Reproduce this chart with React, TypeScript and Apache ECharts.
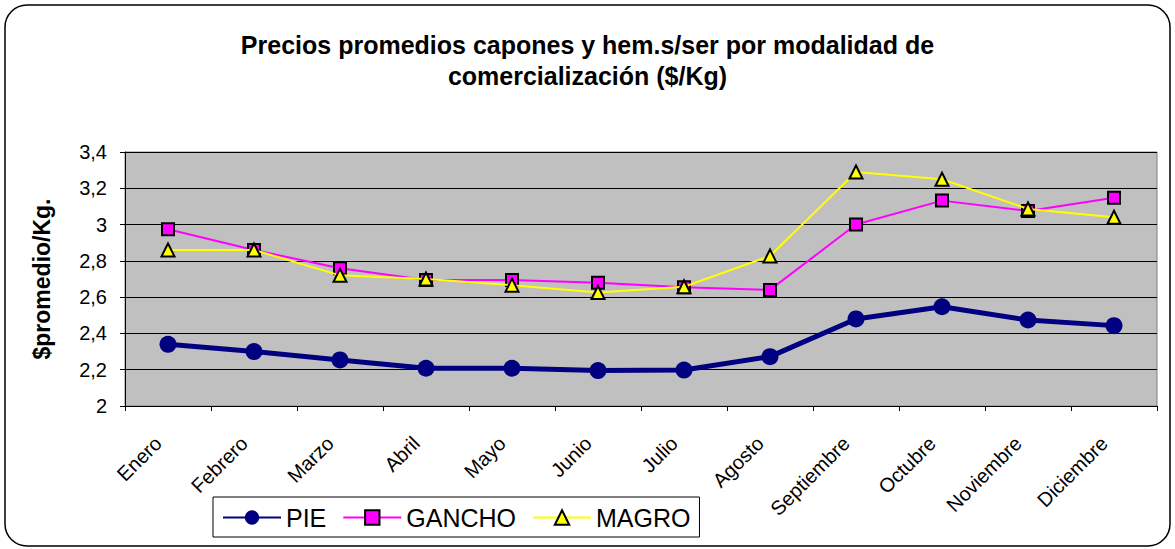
import React, { useEffect, useRef } from "react";
import * as echarts from "echarts";

const months = ["Enero", "Febrero", "Marzo", "Abril", "Mayo", "Junio", "Julio", "Agosto", "Septiembre", "Octubre", "Noviembre", "Diciembre"];
const pie = [2.34, 2.30, 2.254, 2.208, 2.208, 2.195, 2.198, 2.272, 2.48, 2.547, 2.474, 2.443];
const gancho = [2.974, 2.86, 2.759, 2.695, 2.695, 2.68, 2.654, 2.64, 3.0, 3.132, 3.075, 3.148];
const magro = [2.86, 2.86, 2.72, 2.70, 2.666, 2.625, 2.657, 2.827, 3.29, 3.25, 3.086, 3.04];

export default function App() {
  const ref = useRef<HTMLDivElement>(null);
  useEffect(() => {
    const chart = echarts.init(ref.current!, null, { renderer: "svg" });
    const font = "Arial, 'Liberation Sans', sans-serif";
    chart.setOption({
      animation: false,
      textStyle: { fontFamily: font },
      title: {
        text: "Precios promedios capones y hem.s/ser por modalidad de\ncomercialización ($/Kg)",
        left: "center",
        top: 24,
        textStyle: { fontSize: 25, fontWeight: "bold", color: "#000", lineHeight: 31, fontFamily: font },
      },
      graphic: [
        {
          type: "rect",
          shape: { x: 5, y: 5, width: 1165, height: 541, r: 22 },
          style: { fill: "none", stroke: "#000", lineWidth: 1.5 },
          silent: true,
          z: -10,
        },
      ],
      grid: { left: 125, right: 18, top: 152, bottom: 143, backgroundColor: "#C0C0C0", show: true, borderColor: "#808080", borderWidth: 1 },
      legend: {
        left: 213,
        top: 497,
        itemGap: 16,
        itemWidth: 58,
        itemHeight: 18,
        borderColor: "#000",
        borderWidth: 1,
        borderRadius: 0,
        padding: [8, 9, 7, 9],
        textStyle: { fontSize: 25, color: "#000", fontFamily: font },
        data: ["PIE", "GANCHO", "MAGRO"],
      },
      xAxis: {
        type: "category",
        data: months,
        boundaryGap: true,
        axisLine: { lineStyle: { color: "#000", width: 1 } },
        axisTick: { show: true, length: 5, lineStyle: { color: "#000" }, alignWithLabel: false },
        axisLabel: { rotate: 45, fontSize: 20, color: "#000", margin: 24, padding: [0, 14, 0, 0], fontFamily: font, interval: 0 },
        splitLine: { show: false },
      },
      yAxis: {
        type: "value",
        min: 2,
        max: 3.4,
        interval: 0.2,
        name: "$promedio/Kg.",
        nameLocation: "middle",
        nameGap: 72,
        nameTextStyle: { fontSize: 23, fontWeight: "bold", color: "#000", fontFamily: font },
        axisLine: { show: true, lineStyle: { color: "#000" } },
        axisTick: { show: true, length: 5, lineStyle: { color: "#000" } },
        axisLabel: {
          fontSize: 20,
          color: "#000",
          margin: 18,
          fontFamily: font,
          formatter: (v: number) => String(Math.round(v * 10) / 10).replace(".", ","),
        },
        splitLine: { show: true, lineStyle: { color: "#000", width: 1 } },
      },
      series: [
        {
          name: "PIE",
          type: "line",
          data: pie,
          symbol: "circle",
          symbolSize: 17,
          lineStyle: { color: "#000080", width: 5 },
          itemStyle: { color: "#000080", borderColor: "#000080", borderWidth: 0 },
          z: 3,
        },
        {
          name: "GANCHO",
          type: "line",
          data: gancho,
          symbol: "rect",
          symbolSize: 12,
          lineStyle: { color: "#FF00FF", width: 2 },
          itemStyle: { color: "#FF00FF", borderColor: "#000", borderWidth: 2 },
          z: 4,
        },
        {
          name: "MAGRO",
          type: "line",
          data: magro,
          symbol: "triangle",
          symbolSize: 13,
          lineStyle: { color: "#FFFF00", width: 2 },
          itemStyle: { color: "#FFFF00", borderColor: "#000", borderWidth: 2 },
          z: 5,
        },
      ],
    });
    return () => chart.dispose();
  }, []);
  return <div ref={ref} style={{ position: "fixed", left: 0, top: 0, width: 1175, height: 549, background: "#fff" }} />;
}
